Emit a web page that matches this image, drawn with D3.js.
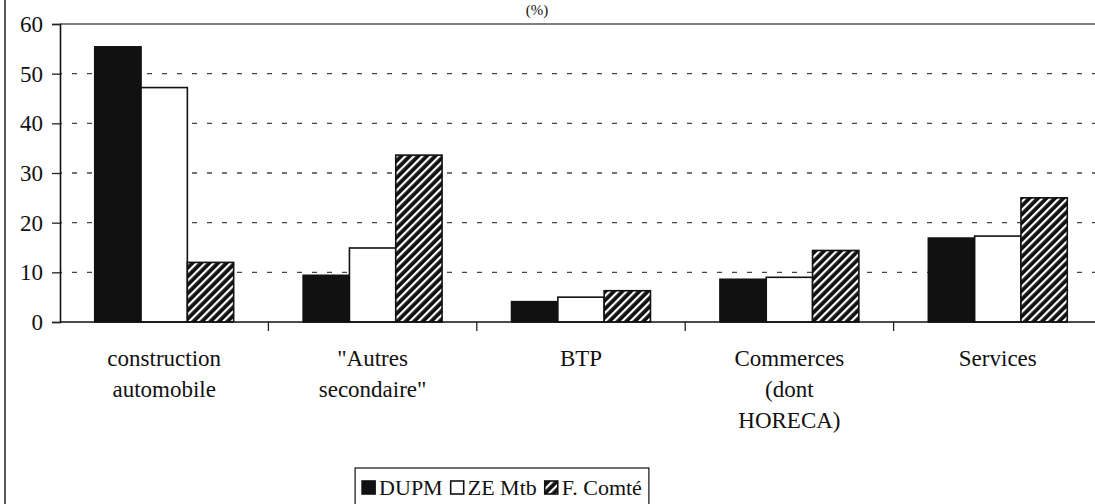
<!DOCTYPE html>
<html>
<head>
<meta charset="utf-8">
<script src="https://cdn.jsdelivr.net/npm/d3@7"></script>
<style>
  body { margin: 0; background: #fff; }
</style>
</head>
<body>
<div id="chart"></div>
<script>
// chart data
var categories = ["construction automobile", "\"Autres secondaire\"", "BTP", "Commerces (dont HORECA)", "Services"]
var categoryLines = [["construction", "automobile"], ["\"Autres", "secondaire\""], ["BTP"], ["Commerces", "(dont", "HORECA)"], ["Services"]]
var seriesNames = ["DUPM", "ZE Mtb", "F. Comté"]
var dupm = [55.4, 9.4, 4.1, 8.6, 16.9]
var zeMtb = [47.2, 14.9, 5.0, 9.0, 17.3]
var fComte = [12.0, 33.6, 6.3, 14.4, 25.0]
var yTicks = [0, 10, 20, 30, 40, 50, 60]

var width = 1095
var height = 504
var seriesValues = [dupm, zeMtb, fComte]
var serif = "'Liberation Serif'"

var svg = d3.select("#chart")
  .append("svg")
    .attr("width", width)
    .attr("height", height)

// hatch pattern for F. Comté
var defs = svg.append("defs")
var pat = defs.append("pattern")
    .attr("id", "hatch")
    .attr("patternUnits", "userSpaceOnUse")
    .attr("width", 6)
    .attr("height", 6)
    .attr("patternTransform", "rotate(45)")
pat.append("rect").attr("width", 6).attr("height", 6).attr("fill", "#111")
pat.append("rect").attr("x", 0).attr("width", 2.2).attr("height", 6).attr("fill", "#fff")

var fills = ["#111", "#fff", "url(#hatch)"]

// page border on the left
svg.append("line")
    .attr("x1", 5).attr("x2", 5)
    .attr("y1", 0).attr("y2", height)
    .attr("stroke", "#222")
    .attr("stroke-width", 1.5)

// title (cut off in the scan), kept small above the plot
svg.append("text")
    .attr("x", 537)
    .attr("y", 15)
    .attr("text-anchor", "middle")
    .style("font-family", serif)
    .style("font-size", "15px")
    .attr("fill", "#111")
    .text("(%)")

var x = d3.scaleBand()
    .domain(categories)
    .range([60, 1102])
    .padding(0)

var xInner = d3.scaleBand()
    .domain(seriesNames)
    .range([0, x.bandwidth()])
    .paddingInner(0)
    .paddingOuter(0.75)

var y = d3.scaleLinear()
    .domain([0, 60])
    .range([322, 24])

// dashed gridlines
svg.append("g")
  .selectAll("line")
  .data(yTicks.filter(function(d){ return d > 0 && d < 60 }))
  .enter()
  .append("line")
    .attr("x1", 60)
    .attr("x2", 1102)
    .attr("y1", function(d){ return y(d) })
    .attr("y2", function(d){ return y(d) })
    .attr("stroke", "#444")
    .attr("stroke-width", 1.3)
    .attr("stroke-dasharray", "5,10")
    .attr("stroke-dashoffset", -12)

// top border of the plot area
svg.append("line")
    .attr("x1", 60).attr("x2", 1102)
    .attr("y1", y(60)).attr("y2", y(60))
    .attr("stroke", "#555")
    .attr("stroke-width", 1.5)

// bars
var groups = svg.append("g")
  .selectAll("g")
  .data(seriesNames)
  .enter()
  .append("g")

groups.selectAll("rect")
  .data(function(s, i){
    return categories.map(function(c, j){ return {cat: c, series: s, idx: i, value: seriesValues[i][j]} })
  })
  .enter()
  .append("rect")
    .attr("x", function(d){ return x(d.cat) + xInner(d.series) })
    .attr("y", function(d){ return y(d.value) })
    .attr("width", xInner.bandwidth())
    .attr("height", function(d){ return y(0) - y(d.value) })
    .attr("fill", function(d){ return fills[d.idx] })
    .attr("stroke", "#111")
    .attr("stroke-width", 1.6)

// y axis
var yAxis = svg.append("g")
    .attr("transform", "translate(60,0)")
    .call(d3.axisLeft(y).tickValues(yTicks).tickSize(8).tickPadding(9))
yAxis.attr("font-family", serif)
yAxis.select(".domain").attr("stroke", "#111").attr("stroke-width", 1.6)
yAxis.selectAll(".tick line").attr("stroke", "#222").attr("stroke-width", 1.3)
yAxis.selectAll(".tick text")
    .style("font-family", serif)
    .style("font-size", "23px")
    .attr("fill", "#111")

// x axis
svg.append("line")
    .attr("x1", 60).attr("x2", 1102)
    .attr("y1", y(0)).attr("y2", y(0))
    .attr("stroke", "#111")
    .attr("stroke-width", 1.6)

var boundaries = categories.slice(1).map(function(c){ return x(c) })
svg.append("g")
  .selectAll("line")
  .data(boundaries)
  .enter()
  .append("line")
    .attr("x1", function(d){ return d }).attr("x2", function(d){ return d })
    .attr("y1", y(0)).attr("y2", y(0) + 9)
    .attr("stroke", "#222")
    .attr("stroke-width", 1.3)

// category labels, wrapped as in the source
var labels = svg.append("g")
  .selectAll("text")
  .data(categories)
  .enter()
  .append("text")
    .attr("text-anchor", "middle")
    .style("font-family", serif)
    .style("font-size", "23px")
    .attr("fill", "#111")
    .attr("x", function(d){ return x(d) + x.bandwidth() / 2 })
    .attr("y", 366)

labels.each(function(d, i){
  var t = d3.select(this)
  categoryLines[i].forEach(function(line, k){
    t.append("tspan")
      .attr("x", x(d) + x.bandwidth() / 2)
      .attr("dy", k === 0 ? 0 : 31)
      .text(line)
  })
})

// legend, laid out item after item and centred
var legend = svg.append("g")
var box = legend.append("rect")
    .attr("y", 468)
    .attr("height", 45)
    .attr("fill", "#fff")
    .attr("stroke", "#222")
    .attr("stroke-width", 1.3)

var cursor = 0
var items = legend.append("g")
seriesNames.forEach(function(s, i){
  items.append("rect")
      .attr("x", cursor).attr("y", 481)
      .attr("width", 13).attr("height", 13)
      .attr("fill", fills[i])
      .attr("stroke", "#111")
      .attr("stroke-width", 1.6)
  var t = items.append("text")
      .attr("x", cursor + 17)
      .attr("y", 495)
      .style("font-family", serif)
      .style("font-size", "22px")
      .attr("fill", "#111")
      .text(s)
  cursor += 17 + t.node().getComputedTextLength() + 8
})
var contentW = cursor - 8
var boxW = contentW + 14
var boxX = 502 - boxW / 2
box.attr("x", boxX).attr("width", boxW)
items.attr("transform", "translate(" + (boxX + 7) + ",0)")
</script>
</body>
</html>
